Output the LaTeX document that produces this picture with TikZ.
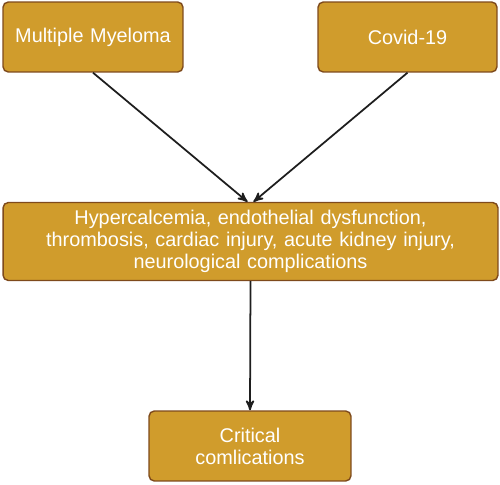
\documentclass[tikz,border=0pt]{standalone}
\usepackage{fontspec}
\setmainfont{Liberation Sans}
\usepackage{tikz}
\usetikzlibrary{shapes,arrows,positioning,calc}
\definecolor{boxgold}{HTML}{D09C2C}
\definecolor{boxedge}{HTML}{7E4A1C}
\definecolor{arrowgray}{HTML}{1E1E1E}
\tikzset{
block/.style = {draw=boxedge, fill=boxgold, line width=0.8pt, rectangle, rounded corners=3pt, align = center, text=white, font=\fontsize{11.3}{12.5}\selectfont, inner sep=0pt},
link/.style = {->, draw=arrowgray, line width=1pt},
}
\begin{document}
\begin{tikzpicture}[auto, x=0.02cm, y=0.02cm, >=stealth']
  \useasboundingbox (0,0) rectangle (500,484);
  \node [block, text width=3.6cm, minimum width=3.6cm, minimum height=1.4cm] (myeloma) at (93,447) {Multiple Myeloma};
  \node [block, text width=3.58cm, minimum width=3.58cm, minimum height=1.4cm] (covid) at (407.5,447) {Covid-19};
  \node [block, text width=9.9cm, minimum width=9.9cm, minimum height=1.56cm] (effects) at (250.5,242.5) {Hypercalcemia, endothelial dysfunction,\\thrombosis, cardiac injury, acute kidney injury,\\neurological complications};
  \node [block, text width=4.04cm, minimum width=4.04cm, minimum height=1.4cm] (critical) at (250,38) {Critical\\comlications};
  \draw [link] (myeloma.south) -- ([xshift=-0.06cm]effects.north);
  \draw [link] (covid.south) -- ([xshift=0.06cm]effects.north);
  \draw [link] (effects.south) -- (critical.north);
\end{tikzpicture}
\end{document}
